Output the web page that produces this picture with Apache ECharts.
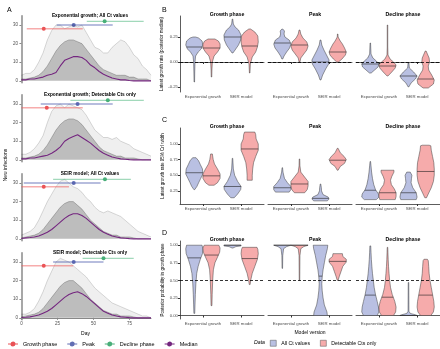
<!DOCTYPE html>
<html>
<head>
<meta charset="utf-8">
<script src="https://cdn.jsdelivr.net/npm/echarts@6/dist/echarts.min.js"></script>
<style>
  html, body { margin: 0; padding: 0; background: #fff; }
  #chart { width: 440px; height: 349px; }
</style>
</head>
<body>
<div id="chart"></div>
<script>
// ---- panel A: simulated epidemics ----
var days = [0, 3, 6, 9, 12, 15, 18, 21, 24, 27, 30, 33, 36, 39, 42, 45, 48, 51, 54, 57, 60, 63, 66, 69, 72, 75, 78, 81, 84, 87, 90];
var aTitles = ['Exponential growth; All Ct values', 'Exponential growth; Detectable Cts only', 'SEIR model; All Ct values', 'SEIR model; Detectable Cts only'];
// upper envelope of the simulated trajectories
var aOuter = [
  [3, 4, 4, 6, 10, 15, 22, 27, 30, 30, 28, 29, 30, 29, 30, 26, 22, 18, 17, 15, 15, 18, 20, 22, 21, 18, 14, 12, 8, 6, 3],
  [3, 3, 4, 6, 9, 13, 20, 26, 29, 30, 28, 30, 29, 28, 27, 24, 20, 16, 14, 12, 12, 11, 12, 10, 9, 8, 6, 5, 4, 3, 2],
  [2, 3, 4, 6, 10, 15, 20, 24, 28, 31, 32, 30, 28, 27, 25, 22, 20, 17, 15, 14, 15, 14, 13, 12, 10, 8, 6, 4, 3, 2, 1],
  [2, 2, 3, 5, 9, 14, 20, 25, 30, 32, 31, 30, 28, 26, 24, 22, 19, 16, 14, 12, 10, 8, 7, 6, 5, 4, 3, 2, 1, 1, 0]
];
// dense core of the trajectories
var aInner = [
  [1, 1, 1.5, 2, 3, 5, 8, 12, 16, 19, 21, 22, 22, 21, 20, 17, 14, 11, 8, 6, 5, 4, 3, 3, 3, 2, 2, 1, 1, 1, 0],
  [1, 1, 1.5, 2, 3, 5, 8, 12, 16, 19, 21, 22, 22, 21, 19, 16, 13, 10, 7, 5, 4, 3, 2, 2, 1, 1, 1, 0.5, 0, 0, 0],
  [0.5, 1, 1.5, 2, 3, 5, 8, 11, 14, 17, 19, 20, 20, 18, 16, 13, 10, 8, 6, 4, 3, 2, 2, 1, 1, 1, 0.5, 0, 0, 0, 0],
  [0.5, 1, 1.5, 2, 3, 5, 8, 11, 14, 17, 19, 20, 20, 18, 16, 13, 10, 8, 6, 4, 3, 2, 2, 1, 1, 1, 0.5, 0, 0, 0, 0]
];
var aMedian = [
  [0.5, 0.5, 1, 1, 1.5, 2, 3, 3.5, 4.5, 8, 11, 12, 13, 13, 12.5, 11, 8.5, 7, 5, 3.5, 2.5, 1.5, 1, 0.5, 0.5, 0.2, 0, 0, 0, 0, 0],
  [0.5, 0.5, 1, 1, 1.5, 2, 2.5, 3.5, 5, 7, 10, 11.5, 12.5, 13.5, 12, 10.5, 9, 7, 5, 3.5, 2.5, 1.5, 1, 0.5, 0.3, 0.1, 0, 0, 0, 0, 0],
  [0.2, 0.5, 0.7, 1, 1.5, 2.5, 3.5, 5, 7, 9, 11, 12.5, 13.5, 13.5, 12.5, 11, 9, 7, 5, 3.5, 2.5, 1.5, 1, 0.5, 0.3, 0.1, 0, 0, 0, 0, 0],
  [0.2, 0.3, 0.5, 1, 1.5, 2.5, 3.5, 5, 7, 9, 11, 12.5, 13.5, 14, 13, 11.5, 9.5, 7.5, 5.5, 3.5, 2.5, 1.5, 1, 0.5, 0.3, 0.1, 0, 0, 0, 0, 0]
];
var phaseNames = ['Growth phase', 'Peak', 'Decline phase'];
var phaseY = [28, 30, 32];
// [lower, point, upper] day per subplot, phases in order growth / peak / decline
var aPhases = [
  [[3.7, 15.5, 42.6], [24.5, 36.3, 63.4], [45.4, 57.8, 84.9]],
  [[0, 17.6, 42.6], [13.4, 39, 63.4], [34, 60, 85]],
  [[0, 15.5, 33], [1.6, 36.3, 55], [22, 58, 76]],
  [[0, 15.5, 36], [22, 36.3, 57], [42.5, 57, 78]]
];

// ---- panels B-D: violins ----
var facetNames = ['Growth phase', 'Peak', 'Decline phase'];
var models = ['Exponential growth', 'SEIR model'];
// each profile is [value, relative half width]; per facet [exponential, SEIR]
var B_all = [
  [[[-0.20, 0.03], [-0.1, 0.05], [0, 0.08], [0.06, 0.15], [0.1, 0.45], [0.13, 0.8], [0.17, 1.0], [0.21, 0.9], [0.24, 0.5], [0.25, 0.15]],
   [[0.09, 0.05], [0.12, 0.3], [0.17, 0.7], [0.22, 0.95], [0.27, 1.0], [0.32, 0.7], [0.35, 0.3], [0.38, 0.1], [0.43, 0.03]]],
  [[[0.03, 0.05], [0.06, 0.2], [0.1, 0.5], [0.14, 0.85], [0.18, 1.0], [0.22, 0.8], [0.25, 0.3], [0.28, 0.2], [0.31, 0.25], [0.33, 0.05]],
   [[-0.18, 0.05], [-0.13, 0.25], [-0.07, 0.6], [-0.02, 0.95], [0.02, 1.0], [0.07, 0.7], [0.12, 0.4], [0.17, 0.15], [0.22, 0.05]]],
  [[[-0.11, 0.1], [-0.08, 0.5], [-0.05, 0.9], [-0.02, 1.0], [0.01, 0.7], [0.04, 0.3], [0.08, 0.08], [0.19, 0.03]],
   [[-0.25, 0.03], [-0.21, 0.3], [-0.17, 0.8], [-0.14, 1.0], [-0.1, 0.6], [-0.06, 0.1], [-0.01, 0.05]]]
];
var B_all_med = [[0.15, 0.25], [0.19, 0.0], [-0.02, -0.14]];
var B_det = [
  [[[-0.15, 0.03], [-0.08, 0.05], [0, 0.1], [0.06, 0.3], [0.1, 0.7], [0.14, 1.0], [0.18, 1.0], [0.21, 0.8], [0.23, 0.4]],
   [[-0.11, 0.03], [-0.02, 0.08], [0.05, 0.3], [0.1, 0.7], [0.15, 0.9], [0.2, 1.0], [0.26, 0.95], [0.3, 0.6], [0.33, 0.1]]],
  [[[0.0, 0.05], [0.04, 0.15], [0.08, 0.5], [0.12, 0.85], [0.16, 1.0], [0.2, 0.85], [0.24, 0.4], [0.28, 0.15], [0.32, 0.05]],
   [[0.0, 0.1], [0.03, 0.5], [0.07, 0.9], [0.1, 1.0], [0.14, 0.8], [0.18, 0.55], [0.21, 0.3], [0.25, 0.05], [0.28, 0.03]]],
  [[[-0.14, 0.05], [-0.1, 0.5], [-0.06, 0.9], [-0.03, 1.0], [0.0, 0.7], [0.03, 0.3], [0.07, 0.06], [0.15, 0.03], [0.37, 0.03]],
   [[-0.26, 0.3], [-0.22, 0.9], [-0.18, 1.0], [-0.13, 0.7], [-0.08, 0.35], [-0.04, 0.3], [0.0, 0.45], [0.04, 0.4], [0.08, 0.2], [0.11, 0.05]]]
];
var B_det_med = [[0.14, 0.16], [0.17, 0.1], [-0.04, -0.17]];
var C_all = [
  [[[0.27, 0.05], [0.32, 0.3], [0.38, 0.5], [0.45, 0.75], [0.52, 1.0], [0.6, 0.95], [0.67, 0.7], [0.73, 0.5], [0.78, 0.2]],
   [[0.14, 0.2], [0.2, 0.6], [0.27, 0.95], [0.32, 1.0], [0.4, 0.6], [0.5, 0.25], [0.6, 0.1], [0.77, 0.03]]],
  [[[0.23, 0.8], [0.27, 1.0], [0.32, 1.0], [0.38, 0.6], [0.45, 0.25], [0.55, 0.08], [0.62, 0.03]],
   [[0.09, 0.8], [0.12, 1.0], [0.15, 0.9], [0.19, 0.3], [0.25, 0.12], [0.3, 0.1], [0.36, 0.03]]],
  [[[0.11, 0.7], [0.15, 1.0], [0.2, 0.95], [0.27, 0.6], [0.35, 0.4], [0.45, 0.25], [0.55, 0.15], [0.65, 0.08], [0.72, 0.03]],
   [[0.11, 0.9], [0.15, 1.0], [0.22, 0.9], [0.3, 0.5], [0.38, 0.3], [0.45, 0.35], [0.5, 0.4], [0.55, 0.2]]]
];
var C_all_med = [[0.54, 0.32], [0.3, 0.13], [0.26, 0.22]];
var C_det = [
  [[[0.34, 0.3], [0.38, 0.7], [0.45, 1.0], [0.52, 1.0], [0.6, 0.7], [0.68, 0.35], [0.75, 0.2], [0.84, 0.1]],
   [[0.42, 0.3], [0.5, 0.3], [0.6, 0.35], [0.7, 0.45], [0.8, 0.7], [0.9, 1.0], [1.0, 1.0], [1.08, 0.75], [1.15, 0.7], [1.19, 0.6]]],
  [[[0.22, 0.6], [0.27, 0.9], [0.33, 1.0], [0.4, 1.0], [0.47, 0.6], [0.55, 0.15], [0.65, 0.05], [0.76, 0.03]],
   [[0.58, 0.05], [0.64, 0.3], [0.69, 0.8], [0.75, 1.0], [0.8, 0.75], [0.86, 0.3], [0.93, 0.05]]],
  [[[0.11, 0.9], [0.16, 1.0], [0.22, 1.0], [0.28, 0.8], [0.35, 0.45], [0.42, 0.35], [0.48, 0.5], [0.55, 0.75], [0.58, 0.75]],
   [[0.14, 0.1], [0.2, 0.3], [0.3, 0.65], [0.4, 0.9], [0.5, 1.0], [0.6, 1.0], [0.7, 0.95], [0.8, 0.8], [0.9, 0.65], [0.97, 0.6], [0.98, 0.4]]]
];
var C_det_med = [[0.49, 0.92], [0.36, 0.74], [0.22, 0.56]];
var D_all = [
  [[[0.03, 0.05], [0.15, 0.08], [0.3, 0.12], [0.45, 0.18], [0.6, 0.28], [0.7, 0.45], [0.8, 0.7], [0.88, 0.95], [0.95, 1.0], [1.0, 0.9]],
   [[0.96, 0.05], [0.98, 0.4], [0.99, 1.0], [1.0, 1.0]]],
  [[[0.67, 0.03], [0.85, 0.05], [0.95, 0.15], [0.98, 0.5], [1.0, 1.0]],
   [[0.0, 0.8], [0.05, 0.75], [0.15, 0.45], [0.25, 0.3], [0.35, 0.2], [0.45, 0.15], [0.55, 0.2], [0.65, 0.3], [0.75, 0.45], [0.85, 0.6], [0.95, 0.8], [1.0, 0.85]]],
  [[[0.0, 0.8], [0.05, 1.0], [0.12, 0.95], [0.2, 0.8], [0.3, 0.6], [0.4, 0.45], [0.5, 0.35], [0.6, 0.25], [0.7, 0.18], [0.8, 0.12], [0.9, 0.08], [0.99, 0.05]],
   [[0.0, 1.0], [0.01, 0.8], [0.03, 0.2], [0.06, 0.05], [0.47, 0.03]]]
];
var D_all_med = [[0.82, 1.0], [1.0, 0.56], [0.29, 0.0]];
var D_det = [
  [[[0.14, 0.05], [0.3, 0.08], [0.5, 0.14], [0.65, 0.22], [0.75, 0.4], [0.83, 0.7], [0.9, 0.95], [0.96, 1.0], [1.0, 0.85]],
   [[0.44, 0.05], [0.5, 0.12], [0.6, 0.3], [0.7, 0.6], [0.8, 0.9], [0.88, 1.0], [0.94, 0.95], [0.97, 0.85]]],
  [[[0.5, 0.03], [0.85, 0.05], [0.95, 0.15], [0.98, 0.5], [1.0, 1.0]],
   [[0.5, 0.05], [0.56, 0.2], [0.63, 0.4], [0.7, 0.6], [0.76, 1.0], [0.8, 1.0], [0.84, 0.6], [0.88, 0.55]]],
  [[[0.0, 0.7], [0.05, 0.95], [0.12, 1.0], [0.2, 0.85], [0.3, 0.55], [0.4, 0.35], [0.5, 0.25], [0.6, 0.18], [0.7, 0.12], [0.8, 0.08], [0.9, 0.05], [0.97, 0.03]],
   [[0.0, 0.6], [0.05, 0.9], [0.12, 1.0], [0.2, 0.95], [0.3, 0.8], [0.4, 0.65], [0.5, 0.5], [0.6, 0.4], [0.7, 0.35], [0.78, 0.3], [0.8, 0.2]]]
];
var D_det_med = [[0.86, 0.81], [1.0, 0.77], [0.26, 0.29]];

var FONT = '"Liberation Sans", Arial, sans-serif';
var phaseColors = ['#e3262b', '#3b4aa0', '#1c9a57'];
var phaseLine = ['rgba(240,90,90,0.5)', 'rgba(80,95,175,0.55)', 'rgba(70,180,120,0.5)'];
var purple = '#74267f';
var blueFill = '#b9c0e2', redFill = '#f6abab';

var chart = echarts.init(document.getElementById('chart'), null, { renderer: 'canvas' });

var grids = [], xAxes = [], yAxes = [], series = [], titles = [];
var aTops = [15.7, 94.7, 173.7, 252.7];
var aTitleY = [11, 90, 169, 248];

// panel A
for (var i = 0; i < 4; i++) {
  grids.push({ left: 20, top: aTops[i], width: 131, height: 67 });
  var last = i === 3;
  xAxes.push({
    type: 'value', gridIndex: i, min: -1, max: 90,
    axisLine: { show: last, lineStyle: { color: '#888', width: 1 } },
    axisTick: { show: last, customValues: [0, 25, 50, 75], length: 2, lineStyle: { color: '#888' } },
    axisLabel: { show: last, customValues: [0, 25, 50, 75], fontSize: 4.5, color: '#4d4d4d', margin: 2, fontFamily: FONT },
    splitLine: { show: false },
    name: last ? 'Day' : '', nameLocation: 'middle', nameGap: 11,
    nameTextStyle: { fontSize: 5, color: '#000', fontFamily: FONT }
  });
  yAxes.push({
    type: 'value', gridIndex: i, min: -1, max: 35,
    axisLine: { show: true, lineStyle: { color: '#8a8a8a', width: 1.5 } },
    axisTick: { show: true, customValues: [0, 10, 20, 30], length: 2, lineStyle: { color: '#888' } },
    axisLabel: { customValues: [0, 10, 20, 30], fontSize: 4.5, color: '#4d4d4d', margin: 2, fontFamily: FONT },
    splitLine: { show: false }
  });
  titles.push({
    text: aTitles[i], left: 85, top: aTitleY[i] - 3, textAlign: 'center',
    textStyle: { fontSize: 4.8, fontWeight: 'bold', color: '#000', fontFamily: FONT }
  });
  series.push({
    type: 'line', xAxisIndex: i, yAxisIndex: i, showSymbol: false, silent: true,
    data: days.map(function (d, j) { return [d, aOuter[i][j]]; }),
    lineStyle: { color: 'rgba(0,0,0,0.3)', width: 0.5 },
    areaStyle: { color: 'rgba(0,0,0,0.09)' }
  });
  series.push({
    type: 'line', xAxisIndex: i, yAxisIndex: i, showSymbol: false, silent: true,
    data: days.map(function (d, j) { return [d, aInner[i][j]]; }),
    lineStyle: { color: 'rgba(0,0,0,0.45)', width: 0.5 },
    areaStyle: { color: 'rgba(0,0,0,0.3)' }
  });
  series.push({
    type: 'line', name: 'Median', xAxisIndex: i, yAxisIndex: i, showSymbol: false,
    data: days.map(function (d, j) { return [d, aMedian[i][j]]; }),
    itemStyle: { color: purple },
    lineStyle: { color: purple, width: 1.1 }
  });
  for (var p = 0; p < 3; p++) {
    var ph = aPhases[i][p];
    series.push({
      type: 'line', xAxisIndex: i, yAxisIndex: i, showSymbol: false, silent: true,
      data: [[ph[0], phaseY[p]], [ph[2], phaseY[p]]],
      lineStyle: { color: phaseLine[p], width: 1.3 }
    });
    series.push({
      type: 'scatter', name: phaseNames[p], xAxisIndex: i, yAxisIndex: i,
      data: [[ph[1], phaseY[p]]], symbolSize: 4,
      itemStyle: { color: phaseColors[p] }
    });
  }
}

// panels B-D
var facetLeft = [180, 268, 356];
var panelTop = [16, 128, 241];
var panelH = [76, 76, 78];
var panelMin = [-0.30, 0.04, -0.05];
var panelMax = [0.46, 1.255, 1.06];
var panelTicks = [[-0.25, 0, 0.25], [0.25, 0.5, 0.75, 1.0], [0, 0.25, 0.5, 0.75, 1.0]];
var panelYName = ['Latest growth rate (posterior median)', 'Latest growth rate 95% CrI width', 'Posterior probability in growth phase'];
var panelAll = [B_all, C_all, D_all], panelDet = [B_det, C_det, D_det];
var panelAllMed = [B_all_med, C_all_med, D_all_med], panelDetMed = [B_det_med, C_det_med, D_det_med];
var panelRef = [0, null, 0.5];

function violinSeries(gi, profiles, medians, side, name, fill, ref) {
  var s = {
    type: 'custom', name: name, xAxisIndex: gi, yAxisIndex: gi,
    itemStyle: { color: fill, borderColor: '#444', borderWidth: 0.5 },
    data: [[1, medians[0]], [2, medians[1]]],
    encode: { x: 0, y: 1 },
    renderItem: function (params, api) {
      var k = params.dataIndex;
      var prof = profiles[k];
      var unit = api.size([1, 0])[0];
      var half = 0.225 * unit;
      var cx = api.coord([k + 1, 0])[0] + side * half;
      var right = prof.map(function (q) { return [cx + q[1] * half, api.coord([k + 1, q[0]])[1]]; });
      var left = prof.slice().reverse().map(function (q) { return [cx - q[1] * half, api.coord([k + 1, q[0]])[1]]; });
      var med = medians[k], w = 0;
      for (var j = 0; j < prof.length - 1; j++) {
        if (med >= prof[j][0] && med <= prof[j + 1][0]) {
          var t = (med - prof[j][0]) / ((prof[j + 1][0] - prof[j][0]) || 1);
          w = prof[j][1] + t * (prof[j + 1][1] - prof[j][1]);
        }
      }
      if (med >= prof[prof.length - 1][0]) w = prof[prof.length - 1][1];
      var my = api.coord([k + 1, med])[1];
      return {
        type: 'group', children: [
          { type: 'polygon', shape: { points: right.concat(left) }, style: { fill: fill, stroke: '#3a3a3a', lineWidth: 0.5 } },
          { type: 'line', shape: { x1: cx - w * half, y1: my, x2: cx + w * half, y2: my }, style: { stroke: '#222', lineWidth: 0.6 } }
        ]
      };
    }
  };
  if (ref !== null && ref !== undefined) {
    s.markLine = {
      silent: true, symbol: 'none', label: { show: false },
      lineStyle: { color: '#000', type: [3, 2], width: 0.8 },
      data: [{ yAxis: ref }]
    };
  }
  return s;
}

for (var pn = 0; pn < 3; pn++) {
  for (var f = 0; f < 3; f++) {
    var gi = 4 + pn * 3 + f;
    grids.push({ left: facetLeft[f], top: panelTop[pn], width: 84, height: panelH[pn] });
    xAxes.push({
      type: 'value', gridIndex: gi, min: 0.4, max: 2.6,
      axisLine: { show: true, lineStyle: { color: '#333', width: 0.8 } },
      axisTick: { show: true, customValues: [1, 2], length: 2, lineStyle: { color: '#333' } },
      axisLabel: {
        customValues: [1, 2], fontSize: 4.3, color: '#4d4d4d', margin: 3, fontFamily: FONT,
        formatter: function (v) { return models[Math.round(v) - 1]; }
      },
      splitLine: { show: false },
      name: (pn === 2 && f === 1) ? 'Model version' : '', nameLocation: 'middle', nameGap: 11,
      nameTextStyle: { fontSize: 5, color: '#000', fontFamily: FONT }
    });
    yAxes.push({
      type: 'value', gridIndex: gi, min: panelMin[pn], max: panelMax[pn],
      show: f === 0,
      axisLine: { show: true, lineStyle: { color: '#333', width: 0.8 } },
      axisTick: { show: true, customValues: panelTicks[pn], length: 2, lineStyle: { color: '#333' } },
      axisLabel: {
        customValues: panelTicks[pn], fontSize: 4.3, color: '#4d4d4d', margin: 2, fontFamily: FONT,
        formatter: function (v) { return v.toFixed(2); }
      },
      splitLine: { show: false },
      name: panelYName[pn], nameLocation: 'middle', nameGap: 14,
      nameTextStyle: { fontSize: 4.5, color: '#000', fontFamily: FONT }
    });
    titles.push({
      text: facetNames[f], left: facetLeft[f] + 42, top: panelTop[pn] - 8.5, textAlign: 'center',
      textStyle: { fontSize: 5.2, fontWeight: 'bold', color: '#000', fontFamily: FONT }
    });
    series.push(violinSeries(gi, panelAll[pn][f], panelAllMed[pn][f], -1, 'All Ct values', blueFill, panelRef[pn]));
    series.push(violinSeries(gi, panelDet[pn][f], panelDetMed[pn][f], 1, 'Detectable Cts only', redFill, null));
  }
}

// panel letters
[['A', 2, 2], ['B', 157, 2], ['C', 157, 112], ['D', 157, 225]].forEach(function (l) {
  titles.push({ text: l[0], left: l[1], top: l[2], textStyle: { fontSize: 7, fontWeight: 'normal', color: '#000', fontFamily: FONT } });
});

var rangeIcon = 'path://M0,2L10,2L10,3L0,3Z M5,0A2.5,2.5,0,1,1,4.99,0Z';
var boxStyle = { borderColor: '#555', borderWidth: 0.5 };

var option = {
  animation: false,
  title: titles,
  grid: grids,
  xAxis: xAxes,
  yAxis: yAxes,
  legend: [{
    left: 8, top: 341, padding: 0, itemWidth: 10, itemHeight: 5, itemGap: 10,
    textStyle: { fontSize: 5.5, color: '#000', fontFamily: FONT },
    data: [
      { name: 'Growth phase', icon: rangeIcon, itemStyle: { color: phaseColors[0] } },
      { name: 'Peak', icon: rangeIcon, itemStyle: { color: phaseColors[1] } },
      { name: 'Decline phase', icon: rangeIcon, itemStyle: { color: phaseColors[2] } },
      { name: 'Median', icon: rangeIcon, itemStyle: { color: purple } }
    ],
    selectedMode: false
  }, {
    left: 270, top: 340, padding: 0, itemWidth: 6, itemHeight: 6, itemGap: 10,
    textStyle: { fontSize: 5.2, color: '#000', fontFamily: FONT },
    data: [
      { name: 'All Ct values', icon: 'rect', itemStyle: Object.assign({ color: blueFill }, boxStyle) },
      { name: 'Detectable Cts only', icon: 'rect', itemStyle: Object.assign({ color: redFill }, boxStyle) }
    ],
    selectedMode: false
  }],
  graphic: [
    {
      type: 'text', x: 6, y: 165, rotation: Math.PI / 2,
      style: { text: 'New infections', fontSize: 5, fill: '#000', fontFamily: FONT, align: 'center', verticalAlign: 'middle' }
    },
    {
      type: 'text', x: 254, y: 343,
      style: { text: 'Data', fontSize: 5.2, fontStyle: 'italic', fill: '#000', fontFamily: FONT, verticalAlign: 'middle' }
    }
  ],
  series: series
};
chart.setOption(option);
</script>
</body>
</html>
